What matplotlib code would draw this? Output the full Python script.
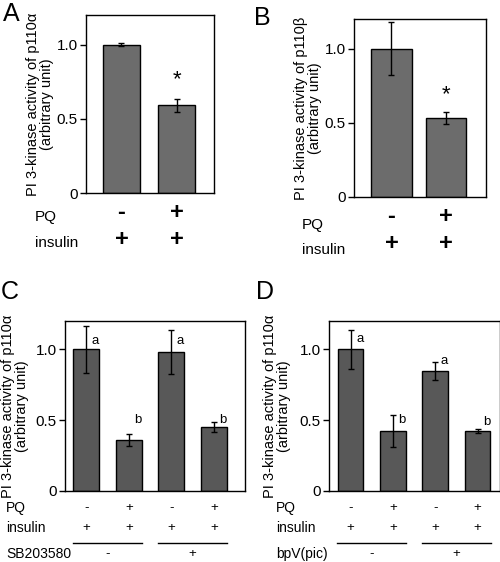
import matplotlib
matplotlib.use('Agg')
import matplotlib.pyplot as plt
from matplotlib.transforms import blended_transform_factory
import numpy as np

plt.rcParams['font.family'] = ['Liberation Sans', 'DejaVu Sans']

W, H = 500, 562

# datos de los paneles
a_vals = [1.0, 0.59]
a_err = [0.01, 0.045]
b_vals = [1.0, 0.53]
b_err = [0.18, 0.04]
c_vals = [1.0, 0.36, 0.984, 0.449]
c_err = [0.165, 0.04, 0.155, 0.035]
c_letters = ['a', 'b', 'a', 'b']
c_letter_y = [1.06, 0.50, 1.06, 0.50]
d_vals = [1.0, 0.423, 0.848, 0.423]
d_err = [0.137, 0.115, 0.065, 0.012]
d_letters = ['a', 'b', 'a', 'b']
d_letter_y = [1.07, 0.50, 0.92, 0.49]

pq_2 = ['-', '+']
ins_2 = ['+', '+']
pq_4 = ['-', '+', '-', '+']
ins_4 = ['+', '+', '+', '+']
treat_4 = ['-', '+']

ylabel_a = 'PI 3-kinase activity of p110\u03b1\n(arbitrary unit)'
ylabel_b = 'PI 3-kinase activity of p110\u03b2\n(arbitrary unit)'

fig = plt.figure(figsize=(W / 100, H / 100), dpi=100)


def add_ax(left, right, top, bottom):
    return fig.add_axes([left / W, 1 - bottom / H, (right - left) / W, (bottom - top) / H])


def fy(px):
    return 1 - px / H


def fx(px):
    return px / W


def base_panel(ax, vals, err, xlim, width, color, ylabel, ylab_x, tick_fs):
    x = np.arange(len(vals))
    ax.bar(x, vals, width=width, color=color, edgecolor='black', linewidth=1.0, zorder=2)
    ax.errorbar(x, vals, yerr=err, fmt='none', ecolor='black', elinewidth=1.0,
                capsize=2, capthick=1.0, zorder=3)
    ax.set_xlim(*xlim)
    ax.set_ylim(0, 1.2)
    ax.set_yticks([0, 0.5, 1.0])
    ax.set_yticklabels(['0', '0.5', '1.0'], fontsize=tick_fs)
    ax.set_xticks([])
    ax.tick_params(axis='y', direction='out', length=4, width=1, pad=2)
    for s in ax.spines.values():
        s.set_linewidth(1.0)
    fig.text(fx(ylab_x), ax.get_position().y0 + ax.get_position().height / 2, ylabel,
             rotation=90, ha='center', va='center', fontsize=10.5, linespacing=1.05)
    return x


# Panel A
axA = add_ax(86, 214, 15, 193)
xA = base_panel(axA, a_vals, a_err, (-0.64, 1.67), 0.67, '#6c6c6c', ylabel_a, 40, 11)
tA = blended_transform_factory(axA.transData, fig.transFigure)
axA.text(xA[1], 0.765, '*', ha='center', va='center', fontsize=16)
for i in range(2):
    axA.text(xA[i], fy(213), pq_2[i], transform=tA, ha='center', va='center', fontsize=17, fontweight='bold')
    axA.text(xA[i], fy(240), ins_2[i], transform=tA, ha='center', va='center', fontsize=17, fontweight='bold')
fig.text(fx(35), fy(217), 'PQ', ha='left', va='center', fontsize=11)
fig.text(fx(35), fy(243), 'insulin', ha='left', va='center', fontsize=11)
fig.text(fx(3), fy(14), 'A', ha='left', va='center', fontsize=18)

# Panel B
axB = add_ax(354, 486, 19, 197)
xB = base_panel(axB, b_vals, b_err, (-0.69, 1.74), 0.74, '#6c6c6c', ylabel_b, 308, 11)
tB = blended_transform_factory(axB.transData, fig.transFigure)
axB.text(xB[1], 0.69, '*', ha='center', va='center', fontsize=16)
for i in range(2):
    axB.text(xB[i], fy(217), pq_2[i], transform=tB, ha='center', va='center', fontsize=17, fontweight='bold')
    axB.text(xB[i], fy(244), ins_2[i], transform=tB, ha='center', va='center', fontsize=17, fontweight='bold')
fig.text(fx(302), fy(225), 'PQ', ha='left', va='center', fontsize=11)
fig.text(fx(302), fy(250), 'insulin', ha='left', va='center', fontsize=11)
fig.text(fx(254), fy(18), 'B', ha='left', va='center', fontsize=18)


def four_panel(ax, vals, err, letters, letter_y, xlim, treat_name, ylab_x, lab_x):
    x = base_panel(ax, vals, err, xlim, 0.61, '#585858', ylabel_a, ylab_x, 11)
    t = blended_transform_factory(ax.transData, fig.transFigure)
    for i in range(4):
        ax.text(x[i] + 0.13, letter_y[i], letters[i], ha='left', va='center', fontsize=9.5)
        ax.text(x[i], fy(508), pq_4[i], transform=t, ha='center', va='center', fontsize=9.5)
        ax.text(x[i], fy(528), ins_4[i], transform=t, ha='center', va='center', fontsize=9.5)
    for j in range(2):
        x0 = x[2 * j] - 0.31
        x1 = x[2 * j + 1] + 0.31
        ax.plot([x0, x1], [fy(542.5), fy(542.5)], transform=t, color='black', lw=1.0, clip_on=False)
        ax.text((x[2 * j] + x[2 * j + 1]) / 2, fy(554), treat_4[j], transform=t,
                ha='center', va='center', fontsize=9.5)
    fig.text(fx(lab_x), fy(508), 'PQ', ha='left', va='center', fontsize=10)
    fig.text(fx(lab_x), fy(528), 'insulin', ha='left', va='center', fontsize=10)
    fig.text(fx(lab_x), fy(554), treat_name, ha='left', va='center', fontsize=10)


# Panel C
axC = add_ax(65, 245, 321, 491)
four_panel(axC, c_vals, c_err, c_letters, c_letter_y, (-0.5, 3.73), 'SB203580', 15, 6)
fig.text(fx(1), fy(292), 'C', ha='left', va='center', fontsize=18)

# Panel D
axD = add_ax(329, 500, 321, 491)
four_panel(axD, d_vals, d_err, d_letters, d_letter_y, (-0.51, 3.53), 'bpV(pic)', 277, 276)
fig.text(fx(256), fy(292), 'D', ha='left', va='center', fontsize=18)

fig.savefig('out.png', dpi=100)
